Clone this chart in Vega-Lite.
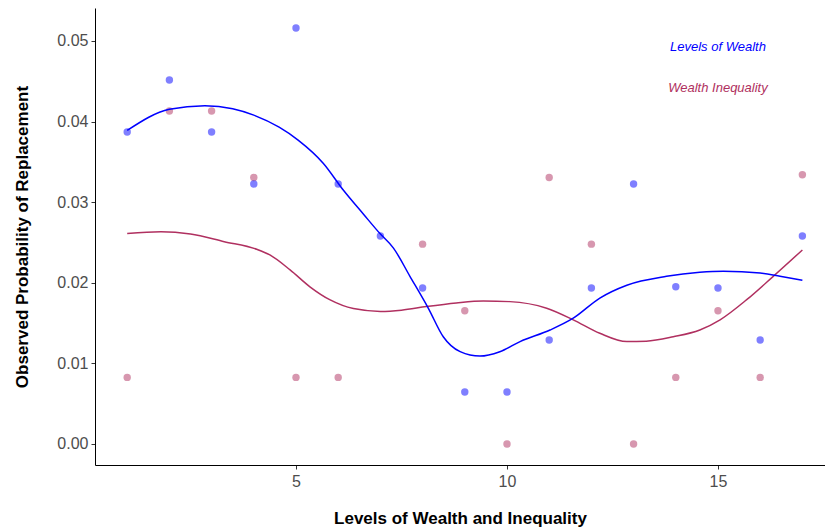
{
  "$schema": "https://vega.github.io/schema/vega-lite/v6.json",
  "width": 730,
  "height": 457,
  "autosize": {"type": "none"},
  "padding": {"left": 95, "top": 8, "right": 0, "bottom": 64},
  "background": "white",
  "config": {
    "view": {"stroke": null},
    "font": "Liberation Sans",
    "axis": {"grid": false, "domainColor": "#000000", "domainWidth": 1, "tickColor": "#333333", "tickSize": 4, "labelColor": "#4d4d4d", "labelFontSize": 16, "labelFont": "Liberation Sans", "titleFont": "Liberation Sans", "titleFontSize": 17, "titleFontWeight": "bold", "titleColor": "#000000"}
  },
  "datasets": {
    "points": [
      {"x": 1, "y": 0.00826, "series": "Wealth Inequality"},
      {"x": 2, "y": 0.04132, "series": "Wealth Inequality"},
      {"x": 3, "y": 0.04132, "series": "Wealth Inequality"},
      {"x": 4, "y": 0.03306, "series": "Wealth Inequality"},
      {"x": 5, "y": 0.00826, "series": "Wealth Inequality"},
      {"x": 6, "y": 0.00826, "series": "Wealth Inequality"},
      {"x": 8, "y": 0.02479, "series": "Wealth Inequality"},
      {"x": 9, "y": 0.01653, "series": "Wealth Inequality"},
      {"x": 10, "y": 0.0, "series": "Wealth Inequality"},
      {"x": 11, "y": 0.03306, "series": "Wealth Inequality"},
      {"x": 12, "y": 0.02479, "series": "Wealth Inequality"},
      {"x": 13, "y": 0.0, "series": "Wealth Inequality"},
      {"x": 14, "y": 0.00826, "series": "Wealth Inequality"},
      {"x": 15, "y": 0.01653, "series": "Wealth Inequality"},
      {"x": 16, "y": 0.00826, "series": "Wealth Inequality"},
      {"x": 17, "y": 0.03340, "series": "Wealth Inequality"},
      {"x": 1, "y": 0.03871, "series": "Levels of Wealth"},
      {"x": 2, "y": 0.04516, "series": "Levels of Wealth"},
      {"x": 3, "y": 0.03871, "series": "Levels of Wealth"},
      {"x": 4, "y": 0.03226, "series": "Levels of Wealth"},
      {"x": 5, "y": 0.05161, "series": "Levels of Wealth"},
      {"x": 6, "y": 0.03226, "series": "Levels of Wealth"},
      {"x": 7, "y": 0.02581, "series": "Levels of Wealth"},
      {"x": 8, "y": 0.01935, "series": "Levels of Wealth"},
      {"x": 9, "y": 0.00645, "series": "Levels of Wealth"},
      {"x": 10, "y": 0.00645, "series": "Levels of Wealth"},
      {"x": 11, "y": 0.0129, "series": "Levels of Wealth"},
      {"x": 12, "y": 0.01935, "series": "Levels of Wealth"},
      {"x": 13, "y": 0.03226, "series": "Levels of Wealth"},
      {"x": 14, "y": 0.01950, "series": "Levels of Wealth"},
      {"x": 15, "y": 0.01935, "series": "Levels of Wealth"},
      {"x": 16, "y": 0.0129, "series": "Levels of Wealth"},
      {"x": 17, "y": 0.02581, "series": "Levels of Wealth"}
    ],
    "curves": [
      {"x": 1.0, "y": 0.0261, "series": "Wealth Inequality"},
      {"x": 1.8, "y": 0.02634, "series": "Wealth Inequality"},
      {"x": 2.5, "y": 0.02605, "series": "Wealth Inequality"},
      {"x": 3.3, "y": 0.0251, "series": "Wealth Inequality"},
      {"x": 4.07, "y": 0.02415, "series": "Wealth Inequality"},
      {"x": 4.38, "y": 0.02345, "series": "Wealth Inequality"},
      {"x": 4.86, "y": 0.0216, "series": "Wealth Inequality"},
      {"x": 5.33, "y": 0.0195, "series": "Wealth Inequality"},
      {"x": 5.81, "y": 0.01787, "series": "Wealth Inequality"},
      {"x": 6.36, "y": 0.0168, "series": "Wealth Inequality"},
      {"x": 7.0, "y": 0.01645, "series": "Wealth Inequality"},
      {"x": 7.5, "y": 0.0166, "series": "Wealth Inequality"},
      {"x": 8.09, "y": 0.01705, "series": "Wealth Inequality"},
      {"x": 8.8, "y": 0.0175, "series": "Wealth Inequality"},
      {"x": 9.44, "y": 0.01774, "series": "Wealth Inequality"},
      {"x": 10.07, "y": 0.01766, "series": "Wealth Inequality"},
      {"x": 10.94, "y": 0.01684, "series": "Wealth Inequality"},
      {"x": 11.57, "y": 0.0154, "series": "Wealth Inequality"},
      {"x": 12.2, "y": 0.01373, "series": "Wealth Inequality"},
      {"x": 12.84, "y": 0.0127, "series": "Wealth Inequality"},
      {"x": 13.3, "y": 0.01275, "series": "Wealth Inequality"},
      {"x": 13.94, "y": 0.0133, "series": "Wealth Inequality"},
      {"x": 14.57, "y": 0.01414, "series": "Wealth Inequality"},
      {"x": 15.05, "y": 0.0154, "series": "Wealth Inequality"},
      {"x": 15.68, "y": 0.0179, "series": "Wealth Inequality"},
      {"x": 16.31, "y": 0.0208, "series": "Wealth Inequality"},
      {"x": 17.0, "y": 0.02407, "series": "Wealth Inequality"},
      {"x": 1.0, "y": 0.0389, "series": "Levels of Wealth"},
      {"x": 2.0, "y": 0.04152, "series": "Levels of Wealth"},
      {"x": 2.84, "y": 0.04197, "series": "Levels of Wealth"},
      {"x": 3.5, "y": 0.0416, "series": "Levels of Wealth"},
      {"x": 4.0, "y": 0.0408, "series": "Levels of Wealth"},
      {"x": 4.6, "y": 0.0393, "series": "Levels of Wealth"},
      {"x": 5.05, "y": 0.0377, "series": "Levels of Wealth"},
      {"x": 5.65, "y": 0.0348, "series": "Levels of Wealth"},
      {"x": 6.12, "y": 0.0315, "series": "Levels of Wealth"},
      {"x": 6.6, "y": 0.0285, "series": "Levels of Wealth"},
      {"x": 6.99, "y": 0.0261, "series": "Levels of Wealth"},
      {"x": 7.31, "y": 0.0243, "series": "Levels of Wealth"},
      {"x": 7.7, "y": 0.0208, "series": "Levels of Wealth"},
      {"x": 8.14, "y": 0.0168, "series": "Levels of Wealth"},
      {"x": 8.49, "y": 0.0133, "series": "Levels of Wealth"},
      {"x": 8.89, "y": 0.01145, "series": "Levels of Wealth"},
      {"x": 9.36, "y": 0.0109, "series": "Levels of Wealth"},
      {"x": 9.83, "y": 0.01145, "series": "Levels of Wealth"},
      {"x": 10.31, "y": 0.0127, "series": "Levels of Wealth"},
      {"x": 11.02, "y": 0.01414, "series": "Levels of Wealth"},
      {"x": 11.57, "y": 0.0156, "series": "Levels of Wealth"},
      {"x": 12.2, "y": 0.0181, "series": "Levels of Wealth"},
      {"x": 12.84, "y": 0.0197, "series": "Levels of Wealth"},
      {"x": 13.78, "y": 0.0208, "series": "Levels of Wealth"},
      {"x": 14.57, "y": 0.0213, "series": "Levels of Wealth"},
      {"x": 15.13, "y": 0.02143, "series": "Levels of Wealth"},
      {"x": 16.0, "y": 0.0212, "series": "Levels of Wealth"},
      {"x": 16.47, "y": 0.0208, "series": "Levels of Wealth"},
      {"x": 17.0, "y": 0.0203, "series": "Levels of Wealth"}
    ],
    "labels": [
      {"x": 15, "y": 0.0492, "series": "Levels of Wealth"},
      {"x": 15, "y": 0.0442, "series": "Wealth Inequality"}
    ]
  },
  "encoding": {
    "x": {"field": "x", "type": "quantitative", "scale": {"domain": [0.237, 17.536], "nice": false, "zero": false}, "axis": {"values": [5, 10, 15], "title": "Levels of Wealth and Inequality", "titlePadding": 21, "labelPadding": 4}},
    "y": {"field": "y", "type": "quantitative", "scale": {"domain": [-0.00261, 0.05409], "nice": false, "zero": false}, "axis": {"values": [0, 0.01, 0.02, 0.03, 0.04, 0.05], "format": ".2f", "title": "Observed Probability of Replacement", "titlePadding": 25, "labelPadding": 3}},
    "color": {"field": "series", "type": "nominal", "scale": {"domain": ["Levels of Wealth", "Wealth Inequality"], "range": ["#0000FF", "#B03060"]}, "legend": null}
  },
  "layer": [
    {"data": {"name": "points"}, "mark": {"type": "circle", "size": 55, "opacity": 0.5}, "encoding": {"order": {"field": "series", "sort": "descending"}}},
    {"data": {"name": "curves"}, "mark": {"type": "line", "strokeWidth": 1.5, "interpolate": "monotone"}, "encoding": {"detail": {"field": "series"}}},
    {"data": {"name": "labels"}, "mark": {"type": "text", "fontStyle": "italic", "fontSize": 13, "align": "center", "baseline": "middle"}, "encoding": {"text": {"field": "series"}}}
  ]
}
